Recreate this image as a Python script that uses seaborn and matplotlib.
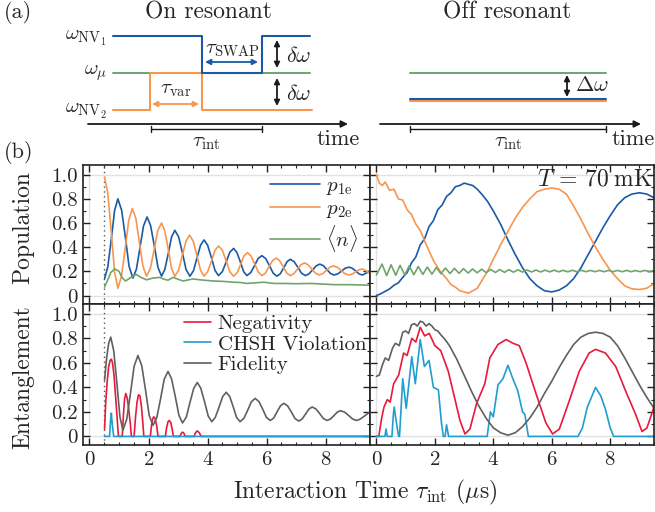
import matplotlib
matplotlib.use('Agg')
import matplotlib.pyplot as plt
from matplotlib.ticker import MultipleLocator, FixedLocator, FixedFormatter
import seaborn as sns

# ---------------- data ----------------
# On-resonant populations (top-left)
on_p1e_t = [0.51,0.62,0.74,0.85,0.96,1.09,1.22,1.34,1.47,1.59,1.71,1.83,1.95,2.07,2.20,2.32,2.44,2.55,2.67,2.78,2.89,3.02,3.15,3.27,3.40,3.52,3.64,3.76,3.88,4.00,4.13,4.25,4.37,4.50,4.63,4.75,4.88,4.99,5.11,5.22,5.33,5.46,5.59,5.71,5.84,5.97,6.10,6.22,6.35,6.46,6.58,6.69,6.80,6.93,7.06,7.18,7.31,7.43,7.56,7.68,7.80,7.92,8.04,8.16,8.28,8.41,8.54,8.66,8.79,8.90,9.02,9.13,9.24,9.37,9.50]
on_p1e = [0.14,0.236,0.47,0.704,0.80,0.704,0.473,0.241,0.145,0.219,0.398,0.576,0.65,0.578,0.405,0.232,0.16,0.215,0.35,0.485,0.54,0.485,0.35,0.215,0.16,0.204,0.31,0.416,0.46,0.417,0.313,0.208,0.165,0.198,0.278,0.357,0.39,0.357,0.278,0.198,0.165,0.189,0.248,0.306,0.33,0.305,0.245,0.185,0.16,0.18,0.23,0.28,0.30,0.28,0.233,0.185,0.165,0.179,0.213,0.246,0.26,0.247,0.215,0.183,0.17,0.179,0.203,0.226,0.235,0.226,0.203,0.179,0.17,0.185,0.205]
on_p2e_t = [0.51,0.62,0.74,0.85,0.96,1.08,1.21,1.33,1.45,1.57,1.69,1.81,1.93,2.06,2.19,2.31,2.44,2.55,2.67,2.78,2.89,3.02,3.14,3.27,3.39,3.51,3.64,3.76,3.88,4.00,4.13,4.25,4.37,4.50,4.63,4.75,4.88,5.00,5.12,5.23,5.35,5.47,5.60,5.72,5.84,5.96,6.08,6.20,6.32,6.44,6.56,6.68,6.80,6.92,7.04,7.16,7.28,7.40,7.53,7.65,7.78,7.90,8.02,8.14,8.26,8.39,8.52,8.65,8.78,8.90,9.01,9.13,9.24,9.37,9.50]
on_p2e = [0.98,0.846,0.52,0.194,0.06,0.156,0.39,0.624,0.72,0.638,0.44,0.242,0.16,0.224,0.38,0.536,0.60,0.536,0.38,0.224,0.16,0.21,0.33,0.45,0.50,0.45,0.33,0.21,0.16,0.197,0.285,0.374,0.41,0.374,0.285,0.197,0.16,0.188,0.258,0.327,0.355,0.327,0.26,0.193,0.165,0.186,0.238,0.289,0.31,0.289,0.238,0.186,0.165,0.18,0.218,0.255,0.27,0.255,0.22,0.185,0.17,0.181,0.208,0.234,0.245,0.234,0.208,0.181,0.17,0.177,0.195,0.213,0.22,0.205,0.18]
on_n_t = [0.51,0.62,0.72,0.86,1.0,1.1,1.22,1.4,1.58,1.75,1.93,2.15,2.38,2.52,2.66,2.83,3.0,3.17,3.35,3.51,3.75,3.97,4.2,4.45,4.65,4.88,5.1,5.33,5.6,5.9,6.25,6.6,7.0,7.5,7.9,8.28,8.8,9.1,9.5]
on_n = [0.07,0.13,0.19,0.22,0.20,0.15,0.12,0.15,0.175,0.15,0.13,0.145,0.15,0.135,0.127,0.15,0.135,0.12,0.13,0.137,0.13,0.125,0.12,0.118,0.115,0.11,0.108,0.10,0.105,0.11,0.10,0.10,0.098,0.10,0.095,0.09,0.09,0.088,0.085]

# On-resonant entanglement (bottom-left)
on_fid_t = [0.51,0.58,0.65,0.72,0.82,0.93,1.03,1.13,1.26,1.39,1.51,1.64,1.77,1.90,2.02,2.15,2.28,2.41,2.53,2.66,2.78,2.91,3.03,3.15,3.28,3.40,3.53,3.65,3.77,3.90,4.02,4.14,4.26,4.39,4.51,4.63,4.75,4.87,4.98,5.10,5.23,5.36,5.48,5.61,5.74,5.87,5.99,6.12,6.24,6.35,6.47,6.58,6.71,6.84,6.96,7.09,7.20,7.32,7.43,7.54,7.67,7.80,7.92,8.05,8.16,8.28,8.39,8.50,8.64,8.78,8.91,9.05,9.16,9.28,9.39,9.50]
on_fid = [0.46,0.64,0.76,0.81,0.699,0.43,0.161,0.05,0.139,0.355,0.571,0.66,0.577,0.375,0.173,0.09,0.154,0.31,0.466,0.53,0.469,0.32,0.171,0.11,0.158,0.275,0.392,0.44,0.393,0.28,0.167,0.12,0.155,0.24,0.325,0.36,0.325,0.24,0.155,0.12,0.148,0.215,0.282,0.31,0.284,0.22,0.156,0.13,0.15,0.20,0.25,0.27,0.249,0.198,0.146,0.125,0.142,0.183,0.223,0.24,0.224,0.185,0.146,0.13,0.142,0.17,0.198,0.21,0.198,0.17,0.142,0.13,0.14,0.16,0.18,0.20]
on_neg_t = [0.51,0.55,0.60,0.65,0.70,0.74,0.78,0.83,0.88,0.93,0.98,
            1.11,1.15,1.19,1.23,1.28,1.33,1.38,1.42,
            1.51,1.56,1.61,1.66,1.71,1.76,1.80,1.84,
            2.06,2.10,2.14,2.18,2.23,2.28,2.32,
            2.57,2.61,2.66,2.70,2.75,2.80,2.84,
            3.06,3.11,3.15,3.20,3.24,
            3.54,3.59,3.65,3.72,3.78,9.5]
on_neg = [0.06,0.28,0.45,0.57,0.62,0.63,0.60,0.50,0.34,0.17,0.0,
          0.0,0.18,0.31,0.35,0.31,0.22,0.11,0.0,
          0.0,0.16,0.28,0.34,0.33,0.24,0.13,0.0,
          0.0,0.09,0.145,0.16,0.14,0.08,0.0,
          0.0,0.07,0.12,0.13,0.115,0.06,0.0,
          0.0,0.025,0.035,0.025,0.0,
          0.0,0.03,0.045,0.03,0.0,0.0]
on_chsh_t = [0.51,0.68,0.71,0.74,0.77,0.82,9.5]
on_chsh = [0.0,0.0,0.12,0.19,0.10,0.0,0.0]

# Off-resonant populations (top-right)
off_p1e_t = [0.0,0.15,0.3,0.45,0.6,0.75,0.9,1.05,1.2,1.35,1.5,1.65,1.8,1.95,2.1,2.25,2.4,2.55,2.7,2.85,3.0,3.15,3.3,3.45,3.6,3.8,4.0,4.25,4.5,4.75,5.0,5.25,5.5,5.75,6.0,6.25,6.5,6.75,7.0,7.25,7.5,7.75,8.0,8.25,8.5,8.75,9.0,9.25,9.5]
off_p1e = [0.0,0.015,0.035,0.055,0.085,0.105,0.15,0.19,0.27,0.32,0.42,0.47,0.57,0.62,0.71,0.75,0.82,0.85,0.90,0.91,0.93,0.92,0.91,0.88,0.84,0.78,0.70,0.59,0.46,0.34,0.23,0.14,0.08,0.04,0.03,0.045,0.08,0.14,0.23,0.34,0.45,0.56,0.66,0.75,0.81,0.84,0.85,0.84,0.81]
off_p2e_t = [0.0,0.1,0.2,0.3,0.45,0.6,0.75,0.9,1.05,1.2,1.35,1.5,1.65,1.8,1.95,2.1,2.25,2.4,2.55,2.7,2.85,3.0,3.15,3.3,3.45,3.6,3.8,4.0,4.25,4.5,4.75,5.0,5.25,5.5,5.75,6.0,6.25,6.5,6.75,7.0,7.25,7.5,7.75,8.0,8.25,8.5,8.75,9.0,9.25,9.5]
off_p2e = [1.0,0.93,0.91,0.94,0.87,0.88,0.80,0.79,0.71,0.67,0.59,0.54,0.45,0.37,0.29,0.23,0.18,0.14,0.09,0.07,0.04,0.03,0.02,0.04,0.06,0.12,0.20,0.30,0.42,0.53,0.64,0.73,0.80,0.86,0.88,0.89,0.88,0.84,0.74,0.63,0.51,0.40,0.30,0.21,0.14,0.08,0.055,0.05,0.06,0.10]
off_n_t = [0.00,0.19,0.35,0.50,0.66,0.81,0.97,1.12,1.28,1.43,1.59,1.74,1.90,2.05,2.21,2.36,2.52,2.67,2.83,2.98,3.14,3.29,3.45,3.60,3.76,3.91,4.07,4.22,4.38,4.53,4.69,4.84,5.00,5.15,5.31,5.46,5.62,5.77,5.93,6.08,6.24,6.39,6.55,6.70,6.86,7.01,7.17,7.32,7.48,7.63,7.79,7.94,8.10,8.25,8.41,8.56,8.72,8.87,9.03,9.18,9.34,9.49]
off_n = [0.17,
         0.26,0.165, 0.255,0.168, 0.25,0.17, 0.245,0.172, 0.24,0.175,
         0.236,0.177, 0.232,0.18, 0.228,0.182, 0.225,0.184, 0.222,0.186,
         0.22,0.188, 0.218,0.19, 0.216,0.191, 0.215,0.192, 0.214,0.193,
         0.213,0.194, 0.212,0.195, 0.211,0.195, 0.21,0.196, 0.21,0.196,
         0.209,0.196, 0.209,0.197, 0.209,0.197, 0.208,0.197, 0.208,0.197,
         0.208,0.197, 0.208,0.197, 0.208,0.197, 0.207,0.197, 0.208,0.197,
         0.207]

# Off-resonant entanglement (bottom-right)
off_fid_t = [0.0,0.1,0.2,0.3,0.42,0.55,0.65,0.78,0.9,1.0,1.1,1.2,1.3,1.4,1.5,1.6,1.7,1.8,1.9,2.0,2.1,2.2,2.35,2.5,2.75,3.0,3.25,3.5,3.75,4.0,4.25,4.5,4.75,5.0,5.25,5.5,5.75,6.0,6.25,6.5,6.75,7.0,7.25,7.5,7.75,8.0,8.25,8.5,8.75,9.0,9.25,9.5]
off_fid = [0.49,0.50,0.58,0.64,0.62,0.72,0.76,0.74,0.85,0.86,0.84,0.91,0.92,0.90,0.94,0.93,0.90,0.92,0.90,0.87,0.86,0.83,0.79,0.74,0.63,0.50,0.37,0.25,0.15,0.07,0.03,0.01,0.03,0.08,0.15,0.24,0.35,0.45,0.56,0.66,0.75,0.81,0.84,0.85,0.84,0.81,0.74,0.64,0.53,0.42,0.32,0.23]
off_neg_t = [0.0,0.08,0.18,0.26,0.37,0.47,0.59,0.76,0.93,1.05,1.21,1.35,1.5,1.65,1.81,2.0,2.2,2.46,2.69,2.86,3.03,3.2,3.43,3.71,3.88,4.16,4.44,4.67,4.89,5.12,5.46,5.8,6.03,6.26,6.6,6.94,7.28,7.5,7.84,8.19,8.53,8.87,9.09,9.26,9.5]
off_neg = [0.0,0.0,0.15,0.24,0.30,0.28,0.43,0.50,0.68,0.66,0.80,0.77,0.89,0.82,0.84,0.74,0.70,0.53,0.30,0.13,0.02,0.06,0.27,0.43,0.64,0.75,0.79,0.76,0.74,0.60,0.35,0.11,0.02,0.06,0.29,0.53,0.68,0.71,0.68,0.57,0.37,0.18,0.04,0.07,0.24]
off_chsh_t = [0.0,0.29,0.33,0.37,0.53,0.58,0.61,0.66,0.76,0.79,0.90,1.02,1.21,1.33,1.50,1.64,1.80,1.95,2.12,2.23,2.29,2.35,2.40,2.47,3.79,3.90,4.00,4.16,4.33,4.50,4.67,4.84,5.00,5.08,5.20,6.90,7.05,7.22,7.50,7.68,7.84,8.00,8.12,9.50]
off_chsh = [0,0,0.06,0,0,0.18,0.24,0.15,0,0,0.47,0.23,0.65,0.43,0.79,0.57,0.62,0.40,0.38,0.10,0,0,0.095,0,0,0.20,0.16,0.42,0.47,0.58,0.47,0.37,0.20,0.18,0,0,0.07,0.24,0.40,0.33,0.22,0.07,0,0]

pop_labels = [r'$p_{\rm 1e}$', r'$p_{\rm 2e}$', r'$\langle n\rangle$']
ent_labels = ['Negativity', 'CHSH Violation', 'Fidelity']
ytick_vals = [0, 0.2, 0.4, 0.6, 0.8, 1.0]
ytick_text = ['0', '0.2', '0.4', '0.6', '0.8', '1.0']
xtick_vals = [0, 2, 4, 6, 8]

# ---------------- style ----------------
sns.set_theme(style='ticks')
plt.rcParams.update({
    'font.family': 'serif',
    'font.serif': ['cmr10'],
    'mathtext.fontset': 'cm',
    'axes.unicode_minus': False,
    'axes.formatter.use_mathtext': True,
    'axes.linewidth': 1.2,
    'axes.edgecolor': '#222222',
})

BLUE = '#1a5aa6'
ORANGE = '#f7964f'
GREEN = '#6fa46b'
RED = '#e8193c'
CYAN = '#1f9ecf'
GRAY = '#606060'

W, H = 655, 512
fig = plt.figure(figsize=(6.55, 5.12), dpi=100)

def fx(px):
    return px / W

def fy(py):
    return 1 - py / H

# ---------------- schematic (a) ----------------
sax = fig.add_axes([0, 0, 1, 1])
sax.set_xlim(0, W)
sax.set_ylim(H, 0)
sax.axis('off')

lvl_nv1, lvl_mu, lvl_nv2 = 36, 73, 110
sax.plot([113, 310], [lvl_mu, lvl_mu], color=GREEN, lw=1.4)
sax.plot([113, 150, 150, 202, 202, 312], [lvl_nv2, lvl_nv2, lvl_mu, lvl_mu, lvl_nv2, lvl_nv2], color=ORANGE, lw=1.5)
sax.plot([113, 202, 202, 262, 262, 310], [lvl_nv1, lvl_nv1, lvl_mu, lvl_mu, lvl_nv1, lvl_nv1], color=BLUE, lw=1.5)

def darrow(x0, y0, x1, y1, c):
    sax.annotate('', xy=(x1, y1), xytext=(x0, y0),
                 arrowprops=dict(arrowstyle='<|-|>', color=c, lw=1.3,
                                 mutation_scale=8, shrinkA=0, shrinkB=0))

darrow(205, 62, 258, 62, BLUE)
darrow(152, 104, 199, 104, ORANGE)
darrow(277, 40, 277, 68, 'k')
darrow(277, 78, 277, 106, 'k')
sax.text(232, 50, r'$\tau_{\rm SWAP}$', ha='center', va='center', fontsize=15)
sax.text(176, 90, r'$\tau_{\rm var}$', ha='center', va='center', fontsize=15)
sax.text(286, 56, r'$\delta\omega$', ha='left', va='center', fontsize=16)
sax.text(286, 94, r'$\delta\omega$', ha='left', va='center', fontsize=16)
sax.text(107, 38, r'$\omega_{\mathrm{NV}_1}$', ha='right', va='center', fontsize=15)
sax.text(107, 73, r'$\omega_{\mu}$', ha='right', va='center', fontsize=15)
sax.text(107, 111, r'$\omega_{\mathrm{NV}_2}$', ha='right', va='center', fontsize=15)

# right schematic
sax.plot([410, 606], [73, 73], color=GREEN, lw=1.4)
sax.plot([410, 606], [100.5, 100.5], color=ORANGE, lw=1.5)
sax.plot([410, 606], [98.5, 98.5], color=BLUE, lw=1.5)
darrow(567, 75, 567, 97, 'k')
sax.text(575, 85, r'$\Delta\omega$', ha='left', va='center', fontsize=16)

# time axes and brackets
for x0, x1, bx0, bx1, tx in [(88, 348, 151, 262, 317), (380, 641, 410, 606, 612)]:
    sax.annotate('', xy=(x1, 124), xytext=(x0, 124),
                 arrowprops=dict(arrowstyle='-|>', color='k', lw=1.3,
                                 mutation_scale=10, shrinkA=0, shrinkB=0))
    sax.plot([bx0, bx1], [128.5, 128.5], color='k', lw=1.0)
    sax.plot([bx0, bx0], [125.5, 131.5], color='k', lw=1.0)
    sax.plot([bx1, bx1], [125.5, 131.5], color='k', lw=1.0)
    sax.text((bx0 + bx1) / 2, 143, r'$\tau_{\rm int}$', ha='center', va='center', fontsize=15)
    sax.text(tx, 139, 'time', ha='left', va='center', fontsize=16)

sax.text(208, 12, 'On resonant', ha='center', va='center', fontsize=17)
sax.text(507, 12, 'Off resonant', ha='center', va='center', fontsize=17)
sax.text(4, 12, '(a)', ha='left', va='center', fontsize=16)
sax.text(4, 153, '(b)', ha='left', va='center', fontsize=16)

# ---------------- plots (b) ----------------
L, M, R = 83, 370, 654
T, MID, B = 165, 304, 445
axTL = fig.add_axes([fx(L), fy(MID), (M - L) / W, (MID - T) / H])
axBL = fig.add_axes([fx(L), fy(B), (M - L) / W, (B - MID) / H])
axTR = fig.add_axes([fx(M), fy(MID), (R - M) / W, (MID - T) / H])
axBR = fig.add_axes([fx(M), fy(B), (R - M) / W, (B - MID) / H])

LW = 1.2
kw = dict(sort=False, estimator=None, lw=LW)

sns.lineplot(x=on_p1e_t, y=on_p1e, ax=axTL, color=BLUE, label=pop_labels[0], **kw)
sns.lineplot(x=on_p2e_t, y=on_p2e, ax=axTL, color=ORANGE, label=pop_labels[1], **kw)
sns.lineplot(x=on_n_t, y=on_n, ax=axTL, color=GREEN, label=pop_labels[2], **kw)

sns.lineplot(x=on_neg_t, y=on_neg, ax=axBL, color=RED, label=ent_labels[0], **kw)
sns.lineplot(x=on_chsh_t, y=on_chsh, ax=axBL, color=CYAN, label=ent_labels[1], **kw)
sns.lineplot(x=on_fid_t, y=on_fid, ax=axBL, color=GRAY, label=ent_labels[2], **kw)

sns.lineplot(x=off_p1e_t, y=off_p1e, ax=axTR, color=BLUE, legend=False, **kw)
sns.lineplot(x=off_p2e_t, y=off_p2e, ax=axTR, color=ORANGE, legend=False, **kw)
sns.lineplot(x=off_n_t, y=off_n, ax=axTR, color=GREEN, legend=False, **kw)

sns.lineplot(x=off_neg_t, y=off_neg, ax=axBR, color=RED, legend=False, **kw)
sns.lineplot(x=off_chsh_t, y=off_chsh, ax=axBR, color=CYAN, legend=False, **kw)
sns.lineplot(x=off_fid_t, y=off_fid, ax=axBR, color=GRAY, legend=False, **kw)

for ax in (axTL, axBL, axTR, axBR):
    for ln in ax.get_lines():
        ln.set_solid_joinstyle('round')
    ax.set_xlim(-0.22, 9.5)
    ax.set_ylim(-0.07, 1.08)
    ax.axhline(0, color='#e2e2e2', lw=1.0, zorder=0)
    ax.axhline(1, color='#e2e2e2', lw=1.0, zorder=0)
    ax.axvline(0, color='#e2e2e2', lw=1.0, zorder=0)
    ax.xaxis.set_major_locator(FixedLocator(xtick_vals))
    ax.xaxis.set_minor_locator(MultipleLocator(0.5))
    ax.yaxis.set_major_locator(FixedLocator(ytick_vals))
    ax.yaxis.set_major_formatter(FixedFormatter(ytick_text))
    ax.yaxis.set_minor_locator(MultipleLocator(0.1))
    ax.tick_params(which='both', direction='in', top=True, right=True,
                   color='#222222', labelsize=15)
    ax.tick_params(which='major', length=5, width=1.0, pad=4)
    ax.tick_params(which='minor', length=2.5, width=0.8)
    ax.set_xlabel('')
    ax.set_ylabel('')
    for s in ax.spines.values():
        s.set_linewidth(1.2)

for ax in (axTL, axBL):
    ax.axvline(0.5, color='#555555', ls=(0, (1, 2.5)), lw=1.0, zorder=1)

for ax in (axTL, axTR):
    ax.tick_params(labelbottom=False)
for ax in (axTR, axBR):
    ax.tick_params(labelleft=False)

axTL.legend(loc='upper right', frameon=False, fontsize=15, handlelength=2.4,
            labelspacing=0.12, borderaxespad=0.15, handletextpad=0.3)
axBL.legend(loc='upper left', bbox_to_anchor=(fx(176), fy(306)),
            bbox_transform=fig.transFigure, frameon=False, fontsize=15,
            handlelength=1.3, labelspacing=0.1, borderaxespad=0.0,
            handletextpad=0.3)

axTR.text(0.997, 0.975, r'$T\,=\,70\;\mathrm{mK}$', transform=axTR.transAxes,
          ha='right', va='top', fontsize=17)

fig.text(fx(23), fy(228), 'Population', rotation=90, ha='center', va='center', fontsize=17)
fig.text(fx(23), fy(377), 'Entanglement', rotation=90, ha='center', va='center', fontsize=17)
fig.text(fx(365), fy(492), r'Interaction Time $\tau_{\rm int}$ ($\mu$s)',
         ha='center', va='center', fontsize=17)

fig.savefig('out.png', dpi=100)
